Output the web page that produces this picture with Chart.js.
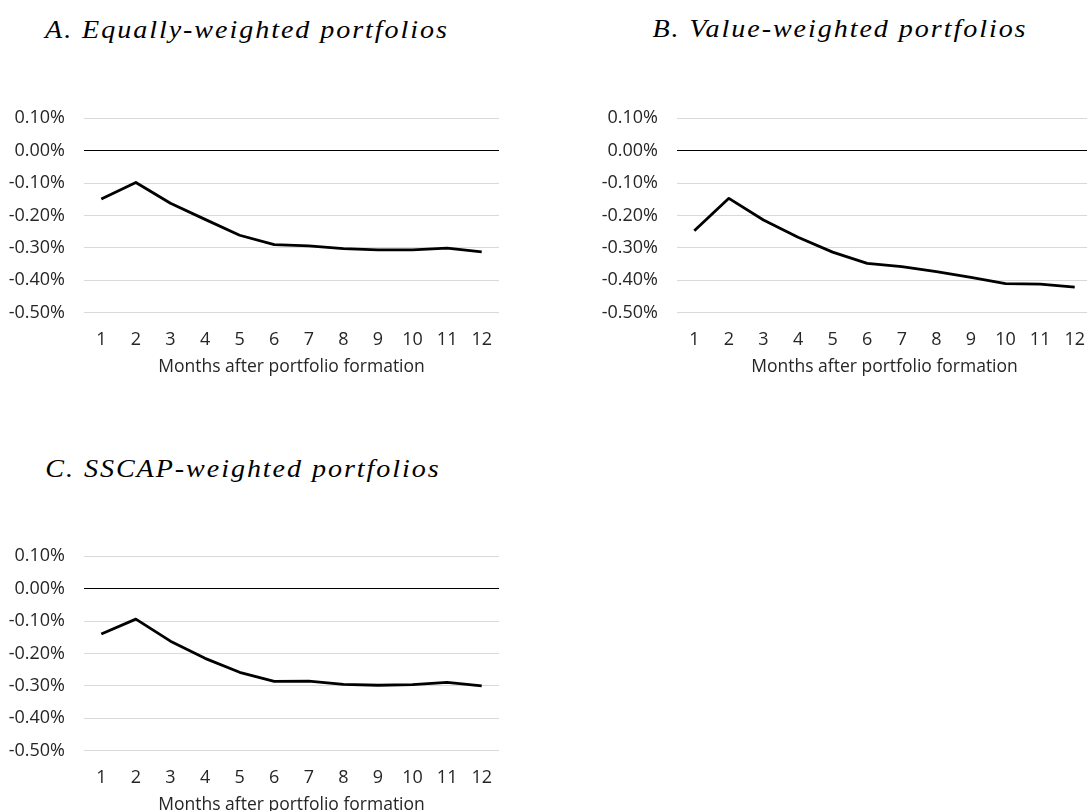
<!DOCTYPE html>
<html>
<head>
<meta charset="utf-8">
<script src="https://cdn.jsdelivr.net/npm/chart.js@4.4.1/dist/chart.umd.min.js"></script>
<style>
  html, body { margin: 0; padding: 0; background: #ffffff; overflow: hidden; }
  body { width: 1087px; height: 811px; position: relative; }
  .panel-title {
    position: absolute;
    font-family: "Liberation Serif", serif;
    font-style: italic;
    font-size: 26px;
    line-height: 26px;
    letter-spacing: 1.8px;
    color: #000;
    white-space: nowrap;
    text-align: center;
    width: 520px;
    transform: scaleX(1.08);
    transform-origin: 50% 50%;
  }
  .panel { position: absolute; width: 500px; height: 290px; }
</style>
</head>
<body>
<div class="panel-title" style="left:-13.5px; top:17px;">A. Equally-weighted portfolios</div>
<div class="panel-title" style="left:580px; top:16px;">B. Value-weighted portfolios</div>
<div class="panel-title" style="left:-17.5px; top:456px;">C. SSCAP-weighted portfolios</div>

<div class="panel" style="left:0px; top:90px;"><canvas id="chartA" width="500" height="290"></canvas></div>
<div class="panel" style="left:593px; top:90px;"><canvas id="chartB" width="500" height="290"></canvas></div>
<div class="panel" style="left:0px; top:527.8px;"><canvas id="chartC" width="500" height="290"></canvas></div>

<script>
// Months after portfolio formation
const months = ['1', '2', '3', '4', '5', '6', '7', '8', '9', '10', '11', '12'];

// Average monthly returns (in percent)
const equallyWeighted = [-0.149, -0.098, -0.162, -0.212, -0.261, -0.290, -0.294, -0.302, -0.306, -0.306, -0.301, -0.312];
const valueWeighted   = [-0.247, -0.147, -0.214, -0.267, -0.313, -0.348, -0.358, -0.373, -0.391, -0.410, -0.412, -0.421];
const sscapWeighted   = [-0.140, -0.094, -0.162, -0.215, -0.258, -0.286, -0.285, -0.295, -0.298, -0.296, -0.289, -0.300];

// Vertical axis range and tick step (percent)
const yMin = -0.5;
const yMax = 0.1;
const yStep = 0.1;

const xAxisTitle = 'Months after portfolio formation';

const tickFont = { family: '"Open Sans", sans-serif', size: 18 };
const titleFont = { family: '"Open Sans", sans-serif', size: 17.5 };

function formatPercent(v) {
  const n = Math.abs(v) < 1e-9 ? 0 : v;
  return n.toFixed(2) + '%';
}

function makeChart(canvasId, values) {
  return new Chart(document.getElementById(canvasId), {
    type: 'line',
    data: {
      labels: months,
      datasets: [{
        data: values,
        borderColor: '#000000',
        borderWidth: 2.8,
        pointRadius: 0,
        tension: 0,
        fill: false,
        borderJoinStyle: 'round'
      }]
    },
    options: {
      responsive: false,
      animation: false,
      devicePixelRatio: 1,
      layout: { padding: { top: 28.3, right: 1, bottom: 2.4, left: 0 } },
      plugins: { legend: { display: false }, tooltip: { enabled: false } },
      scales: {
        x: {
          offset: true,
          grid: { display: false, drawTicks: false },
          border: { display: false },
          ticks: { color: '#262626', font: tickFont, padding: 16, maxRotation: 0, autoSkip: false },
          title: {
            display: true,
            text: xAxisTitle,
            color: '#262626',
            font: titleFont,
            padding: { top: 0, bottom: 0 }
          },
          afterFit: (scale) => {
            scale.height = 64.9;
            // category labels sit inside the offset bands, no extra side room needed
            scale.paddingLeft = 0;
            scale.paddingRight = 0;
          }
        },
        y: {
          min: yMin,
          max: yMax,
          grid: {
            drawTicks: false,
            lineWidth: 1,
            color: (ctx) => (ctx.tick && Math.abs(ctx.tick.value) < 1e-9 ? '#000000' : '#d9d9d9')
          },
          border: { display: false },
          ticks: {
            stepSize: yStep,
            color: '#262626',
            font: tickFont,
            padding: 19,
            callback: (v) => formatPercent(v)
          },
          afterFit: (scale) => {
            scale.width = 84;
            scale.paddingTop = 0;
            scale.paddingBottom = 0;
          }
        }
      }
    }
  });
}

makeChart('chartA', equallyWeighted);
makeChart('chartB', valueWeighted);
makeChart('chartC', sscapWeighted);
</script>
</body>
</html>
